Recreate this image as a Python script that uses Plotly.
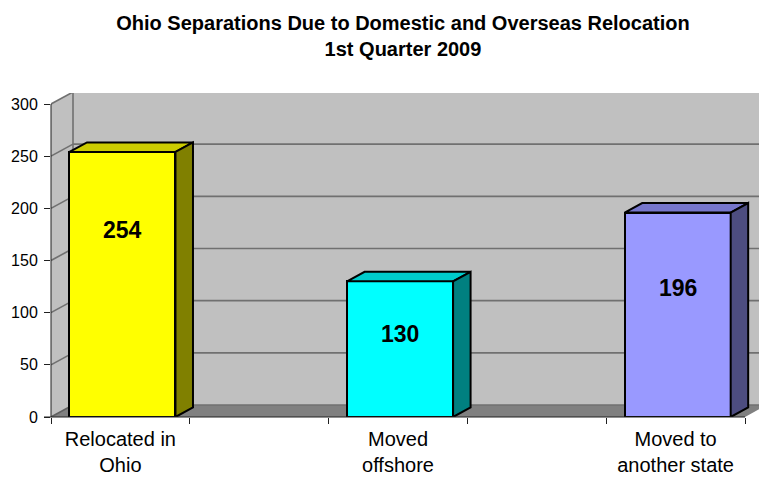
import plotly.graph_objects as go

# ---- data ----
categories = ["Relocated in<br>Ohio", "Moved<br>offshore", "Moved to<br>another state"]
values = [254, 130, 196]
y_ticks = [0, 50, 100, 150, 200, 250, 300]

# ---- styling ----
front_colors = ["#FFFF00", "#00FFFF", "#9999FF"]
top_colors = ["#CCCC00", "#00CCCC", "#7676CC"]
side_colors = ["#808000", "#008080", "#4D4D80"]
wall_color = "#C0C0C0"
floor_color = "#808080"
grid_color = "#707070"
font_family = "Liberation Sans, Arial, sans-serif"

W, H = 759, 482
M_L, M_T, M_B = 51, 93, 65          # plot area spans the front plane plus the depth offset
n_slots = 2 * len(categories) - 1    # bars sit in every other category slot
px_x = 694 / n_slots                 # pixels per category slot on the front plane
px_y = 313 / y_ticks[-1]             # pixels per unit on the front plane
x_lo = -0.5
x_hi = x_lo + (W - M_L) / px_x
y_hi = (H - M_T - M_B) / px_y

wall_dx, wall_dy = 22 / px_x, 12 / px_y   # depth of the 3-D box
bar_dx, bar_dy = 17.5 / px_x, 9.5 / px_y  # depth of each column
bar_w = 106 / px_x
bar_shift = 0.015
label_y = [179, 80, 124]                  # where the value labels sit inside each column

xs = [2 * i for i in range(len(categories))]

fig = go.Figure()

# front faces of the columns
fig.add_trace(go.Bar(
    x=xs, y=values, width=bar_w, offset=bar_shift - bar_w / 2,
    marker=dict(color=front_colors, line=dict(color="black", width=2)),
    hoverinfo="skip", showlegend=False,
))

# top and side faces
for x, v, tc, sc in zip(xs, values, top_colors, side_colors):
    x0 = x + bar_shift - bar_w / 2
    x1 = x + bar_shift + bar_w / 2
    fig.add_trace(go.Scatter(
        x=[x0, x1, x1 + bar_dx, x0 + bar_dx, x0],
        y=[v, v, v + bar_dy, v + bar_dy, v],
        mode="lines", fill="toself", fillcolor=tc,
        line=dict(color="black", width=2), hoverinfo="skip", showlegend=False,
    ))
    fig.add_trace(go.Scatter(
        x=[x1, x1 + bar_dx, x1 + bar_dx, x1, x1],
        y=[0, bar_dy, v + bar_dy, v, 0],
        mode="lines", fill="toself", fillcolor=sc,
        line=dict(color="black", width=2), hoverinfo="skip", showlegend=False,
    ))

# walls and floor of the 3-D box
bx = x_lo + wall_dx
bx_r = x_lo + n_slots + wall_dx
top = y_ticks[-1]
shapes = [
    dict(type="path", xref="x", yref="y", layer="below", line=dict(width=0),
         fillcolor=wall_color,
         path=f"M{bx},{wall_dy} L{bx_r},{wall_dy} L{bx_r},{top + wall_dy} L{bx},{top + wall_dy} Z"),
    dict(type="path", xref="x", yref="y", layer="below", line=dict(width=0),
         fillcolor=wall_color,
         path=f"M{x_lo},0 L{bx},{wall_dy} L{bx},{top + wall_dy} L{x_lo},{top} Z"),
    dict(type="path", xref="x", yref="y", layer="below", line=dict(width=0),
         fillcolor=floor_color,
         path=f"M{x_lo},0 L{x_lo + n_slots},0 L{bx_r},{wall_dy} L{bx},{wall_dy} Z"),
]
for v in y_ticks:
    shapes.append(dict(type="line", xref="x", yref="y", layer="below",
                       x0=bx, x1=bx_r, y0=v + wall_dy, y1=v + wall_dy,
                       line=dict(color=grid_color, width=1.6)))
    shapes.append(dict(type="line", xref="x", yref="y", layer="below",
                       x0=x_lo, x1=bx, y0=v, y1=v + wall_dy,
                       line=dict(color=grid_color if v else "#606060", width=1.6)))
shapes.append(dict(type="line", xref="x", yref="y", layer="below",
                   x0=bx, x1=bx, y0=wall_dy, y1=top + wall_dy,
                   line=dict(color=grid_color, width=1.6)))
# front value axis and category axis lines
shapes.append(dict(type="line", xref="paper", yref="y", layer="above",
                   x0=0, x1=0, y0=0, y1=top, line=dict(color="#202020", width=1)))
shapes.append(dict(type="line", xref="paper", yref="paper", layer="above",
                   x0=-7 / (W - M_L), x1=n_slots * px_x / (W - M_L), y0=0, y1=0,
                   line=dict(color="#202020", width=1)))

annotations = [
    dict(x=x + bar_shift, y=ly, xref="x", yref="y", text=f"<b>{v}</b>",
         showarrow=False, font=dict(family=font_family, size=23, color="black"))
    for x, v, ly in zip(xs, values, label_y)
]

fig.update_layout(
    width=W, height=H,
    margin=dict(l=M_L, r=0, t=M_T, b=M_B, pad=0),
    paper_bgcolor="white", plot_bgcolor="white",
    bargap=0,
    shapes=shapes, annotations=annotations,
    font=dict(family=font_family, color="black"),
    title=dict(
        text="<b>Ohio Separations Due to Domestic and Overseas Relocation<br>1st Quarter 2009</b>",
        font=dict(family=font_family, size=20, color="black"),
        x=403 / W, xref="container", xanchor="center",
        y=1 - 30 / H, yref="container", yanchor="top",
    ),
    xaxis=dict(
        range=[x_lo, x_hi], showgrid=False, zeroline=False, showline=False,
        tickmode="array", tickvals=xs, ticktext=categories, ticks="",
        ticklabelstandoff=8,
        tickfont=dict(family=font_family, size=20, color="black"),
        minor=dict(tickmode="array",
                   tickvals=[x_lo + i for i in range(n_slots + 1)],
                   ticks="outside", ticklen=6, tickcolor="#202020", tickwidth=1),
        fixedrange=True,
    ),
    yaxis=dict(
        range=[0, y_hi], showgrid=False, zeroline=False, showline=False,
        tickmode="array", tickvals=y_ticks, ticks="outside", ticklen=6,
        ticklabelstandoff=3,
        tickcolor="#202020", tickfont=dict(family=font_family, size=16, color="black"),
        fixedrange=True,
    ),
)

fig.write_html("out.html")
